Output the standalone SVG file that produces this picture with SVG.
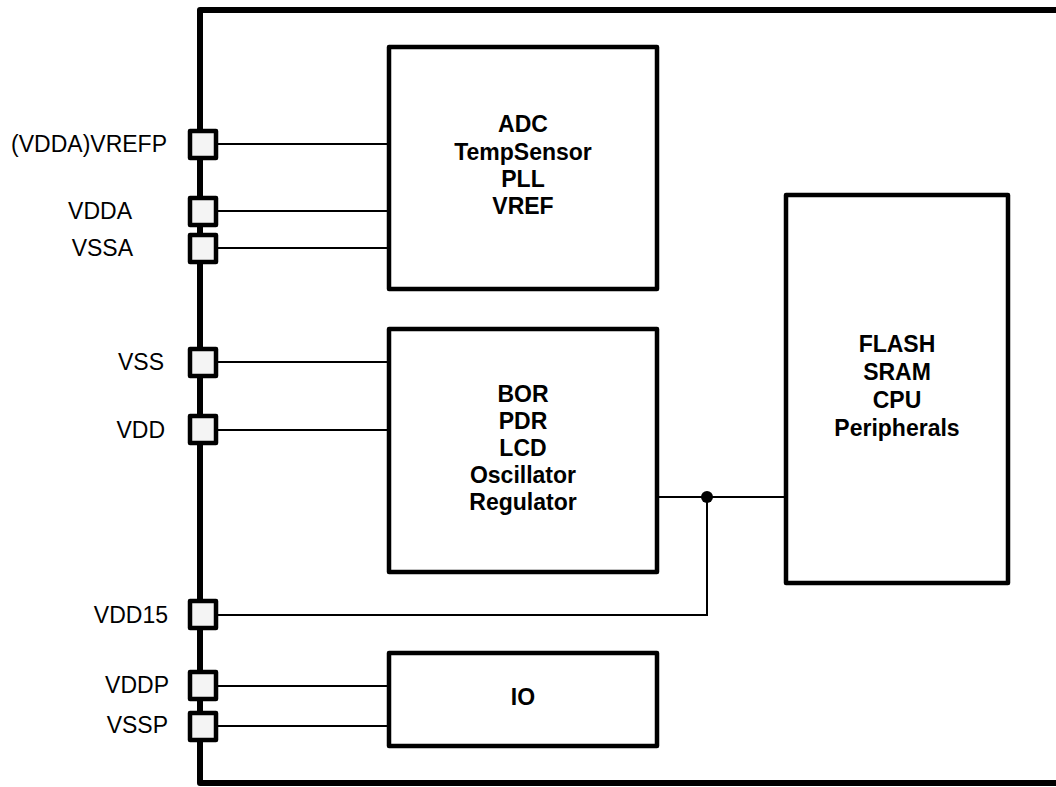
<svg xmlns="http://www.w3.org/2000/svg" width="1056" height="787" viewBox="0 0 1056 787">
<style>
.frame{fill:none;stroke:#000;stroke-width:6;stroke-linejoin:round}
.box{fill:#fff;stroke:#000;stroke-width:4.5;stroke-linejoin:round}
.pin{fill:#f4f4f4;stroke:#000;stroke-width:4.5;stroke-linejoin:round}
.wire{fill:none;stroke:#000;stroke-width:2}
.lbl{font-family:"Liberation Sans",Arial,sans-serif;font-size:23px;fill:#000}
.blk{font-family:"Liberation Sans",Arial,sans-serif;font-size:23px;font-weight:bold;fill:#000;text-anchor:middle}
</style>
<rect width="1056" height="787" fill="#fff"/>
<g id="chip"><path class="frame" d="M1060,10 H200 V783 H1060"/></g>
<g id="connectors">
<line class="wire" x1="218" y1="144" x2="388" y2="144"/>
<line class="wire" x1="218" y1="211" x2="388" y2="211"/>
<line class="wire" x1="218" y1="248" x2="388" y2="248"/>
<line class="wire" x1="218" y1="362" x2="388" y2="362"/>
<line class="wire" x1="218" y1="430" x2="388" y2="430"/>
<line class="wire" x1="218" y1="686" x2="388" y2="686"/>
<line class="wire" x1="218" y1="726" x2="388" y2="726"/>
<line class="wire" x1="657" y1="497" x2="785" y2="497"/>
<polyline class="wire" points="218,615 707,615 707,497"/>
<circle cx="707" cy="497" r="6" fill="#000"/>
</g>
<g id="pin-vrefp"><rect class="pin" x="190" y="131" width="26" height="27"/><text class="lbl" x="167" y="152" text-anchor="end">(VDDA)VREFP</text></g>
<g id="pin-vdda"><rect class="pin" x="190" y="198" width="26" height="27"/><text class="lbl" x="132" y="219" text-anchor="end">VDDA</text></g>
<g id="pin-vssa"><rect class="pin" x="190" y="235" width="26" height="27"/><text class="lbl" x="133" y="256" text-anchor="end">VSSA</text></g>
<g id="pin-vss"><rect class="pin" x="190" y="349" width="26" height="27"/><text class="lbl" x="164" y="370" text-anchor="end">VSS</text></g>
<g id="pin-vdd"><rect class="pin" x="190" y="416" width="26" height="27"/><text class="lbl" x="165" y="438" text-anchor="end">VDD</text></g>
<g id="pin-vdd15"><rect class="pin" x="190" y="601" width="26" height="27"/><text class="lbl" x="168" y="623" text-anchor="end">VDD15</text></g>
<g id="pin-vddp"><rect class="pin" x="190" y="672" width="26" height="27"/><text class="lbl" x="169" y="693" text-anchor="end">VDDP</text></g>
<g id="pin-vssp"><rect class="pin" x="190" y="713" width="26" height="27"/><text class="lbl" x="168" y="733" text-anchor="end">VSSP</text></g>
<g id="analog"><rect class="box" x="389" y="47" width="268" height="242"/>
<text class="blk" x="523" y="132">ADC</text><text class="blk" x="523" y="160">TempSensor</text><text class="blk" x="523" y="187">PLL</text><text class="blk" x="523" y="214">VREF</text></g>
<g id="power"><rect class="box" x="389" y="329" width="268" height="243"/>
<text class="blk" x="523" y="402">BOR</text><text class="blk" x="523" y="429">PDR</text><text class="blk" x="523" y="456">LCD</text><text class="blk" x="523" y="483">Oscillator</text><text class="blk" x="523" y="510">Regulator</text></g>
<g id="core"><rect class="box" x="786" y="195" width="222" height="388"/>
<text class="blk" x="897" y="352">FLASH</text><text class="blk" x="897" y="380">SRAM</text><text class="blk" x="897" y="408">CPU</text><text class="blk" x="897" y="436">Peripherals</text></g>
<g id="io"><rect class="box" x="389" y="653" width="268" height="93"/>
<text class="blk" x="523" y="705">IO</text></g>
</svg>
